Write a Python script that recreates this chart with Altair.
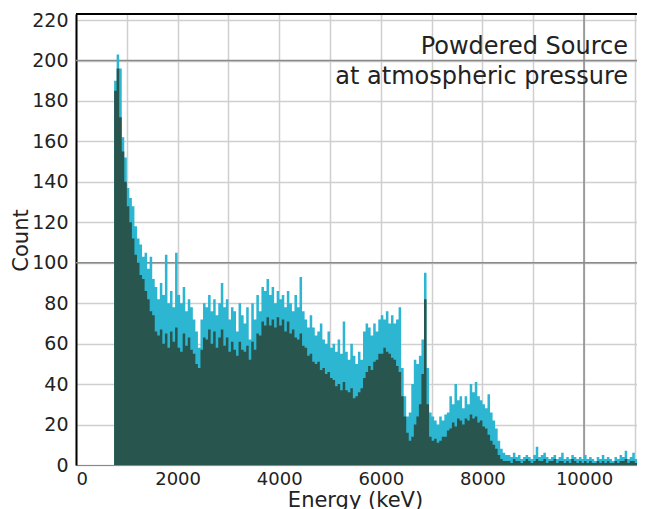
import altair as alt
import pandas as pd

# ---- data (50 keV bins starting at 750 keV) ----
BIN_START = 750
BIN_WIDTH = 50

CYAN = [
    190, 203, 196, 162, 152, 137, 132, 128, 118, 112,
    109, 103, 105, 97, 103, 92, 88, 82, 90, 84,
    104, 80, 86, 78, 105, 84, 80, 88, 76, 82,
    78, 72, 66, 58, 72, 80, 78, 84, 76, 82,
    74, 80, 90, 78, 82, 72, 78, 76, 66, 80,
    74, 70, 78, 62, 80, 72, 84, 76, 88, 86,
    92, 84, 88, 80, 86, 82, 84, 78, 86, 80,
    76, 84, 78, 93, 76, 72, 68, 74, 68, 64,
    66, 70, 62, 60, 66, 58, 60, 56, 62, 55,
    71, 56, 52, 60, 54, 50, 56, 52, 66, 70,
    68, 64, 70, 66, 72, 74, 72, 76, 70, 74,
    70, 72, 78, 48, 34, 24, 26, 40, 52, 50,
    54, 62, 95, 48, 26, 24, 22, 20, 24, 22,
    25, 26, 34, 30, 40, 32, 34, 28, 34, 30,
    40, 36, 41, 34, 32, 30, 28, 35, 26, 22,
    18, 12, 8, 6, 5,
    5, 4, 6, 4, 5, 3, 4, 5, 4, 3,
    5, 9, 4, 5, 6, 4, 3, 4, 5, 3,
    4, 6, 3, 4, 3, 5, 4, 3, 4, 3,
    5, 3, 4, 3, 2, 4, 3, 5, 3, 4,
    3, 2, 4, 3, 5, 4, 7, 3, 4, 6,
    3, 5, 4, 6,
]

GREEN = [
    185, 196, 172, 155, 140, 128, 120, 112, 104, 100,
    94, 92, 86, 82, 76, 74, 66, 64, 67, 60,
    65, 58, 66, 61, 68, 58, 56, 65, 59, 63,
    57, 55, 50, 48, 57, 63, 62, 67, 60, 66,
    58, 63, 67, 59, 63, 56, 61, 57, 54, 61,
    57, 56, 59, 52, 61, 57, 65, 64, 71, 69,
    73, 69, 72, 68, 73, 69, 72, 66, 71, 65,
    67, 63, 62, 65, 59, 58, 54, 55, 51, 50,
    51, 47, 48, 45, 46, 43, 42, 39, 40, 37,
    41, 37, 36, 38, 33, 34, 36, 38, 43, 46,
    49, 47, 51, 52, 55, 55, 58, 56, 55, 53,
    52, 49, 46, 34, 24, 16, 12, 14, 20, 24,
    30, 45, 82, 30, 14, 12, 13, 11, 12, 14,
    14, 17, 18, 21, 19, 23, 22, 20, 23, 22,
    25, 23, 24, 21, 22, 19, 18, 15, 12, 10,
    8, 5, 3, 2, 2,
    2, 1, 3, 2, 2, 1, 2, 3, 2, 1,
    2, 3, 2, 2, 3, 1, 2, 2, 3, 1,
    2, 2, 1, 2, 1, 3, 2, 1, 2, 1,
    2, 1, 2, 1, 1, 2, 1, 2, 1, 2,
    1, 1, 2, 1, 2, 2, 3, 1, 2, 2,
    1, 2, 2, 3,
]

X_TICKS = list(range(0, 11001, 1000))
Y_TICKS = list(range(0, 221, 20))
X_MAJOR = [10000]
Y_MAJOR = [100, 200]
ANNOT = ["Powdered Source", "at atmospheric pressure"]

W, H = 561, 451
X_MAX = 11043
Y_MAX = 223
FONT = "DejaVu Sans"

edges = [BIN_START + BIN_WIDTH * i for i in range(len(CYAN) + 1)]
df = pd.DataFrame({
    "energy": edges,
    "top": CYAN + [CYAN[-1]],
    "low": GREEN + [GREEN[-1]],
})

xscale = alt.Scale(domain=[0, X_MAX], nice=False, zero=False)
yscale = alt.Scale(domain=[0, Y_MAX], nice=False)

xaxis = alt.Axis(
    values=X_TICKS, grid=True, gridColor="#cfcfcf", gridWidth=1.5,
    labelExpr="datum.value % 2000 == 0 ? format(datum.value, 'd') : ''",
    ticks=False, domainColor="#7d8f8d", domainWidth=1,
    labelFont=FONT, labelFontSize=18, labelColor="#222", labelPadding=5,
    title="Energy (keV)", titleFont=FONT, titleFontSize=21, titleFontWeight="normal",
    titleColor="#222", titleX=279, titleY=41, titleBaseline="alphabetic",
    titleAlign="center",
)
yaxis = alt.Axis(
    values=Y_TICKS, grid=True, gridColor="#cfcfcf", gridWidth=1.5,
    format="d", ticks=False, domainColor="#000", domainWidth=2,
    labelFont=FONT, labelFontSize=19, labelColor="#222", labelPadding=8,
    title="Count", titleFont=FONT, titleFontSize=21, titleFontWeight="normal",
    titleColor="#222", titleX=-49, titleY=226, titleAngle=270,
    titleBaseline="alphabetic", titleAlign="center",
)

def X(field):
    return alt.X(field, scale=xscale, axis=xaxis)

def Y(field):
    return alt.Y(field, scale=yscale, axis=yaxis)

cyan = alt.Chart(df).mark_area(
    interpolate="step-after", color="#2cb6d2", clip=True
).encode(x=X("energy:Q"), y=Y("top:Q"))
green = alt.Chart(df).mark_area(
    interpolate="step-after", color="#28564f", clip=True
).encode(x=X("energy:Q"), y=Y("low:Q"))

vmaj = alt.Chart(pd.DataFrame({"v": X_MAJOR})).mark_rule(
    color="#8a8a8a", strokeWidth=1.5
).encode(x=X("v:Q"))
hmaj = alt.Chart(pd.DataFrame({"h": Y_MAJOR})).mark_rule(
    color="#8a8a8a", strokeWidth=1.5
).encode(y=Y("h:Q"))

border = alt.Chart(pd.DataFrame({"a": [0]})).mark_rule(
    color="#000", strokeWidth=2
).encode(x=alt.value(0), x2=alt.value(W), y=alt.value(0))

t1 = alt.Chart(pd.DataFrame({"t": [ANNOT[0]]})).mark_text(
    align="right", baseline="alphabetic", font=FONT, fontSize=24, color="#222"
).encode(text="t:N", x=alt.value(552), y=alt.value(40))
t2 = alt.Chart(pd.DataFrame({"t": [ANNOT[1]]})).mark_text(
    align="right", baseline="alphabetic", font=FONT, fontSize=24, color="#222"
).encode(text="t:N", x=alt.value(552), y=alt.value(70))

chart = alt.layer(vmaj, hmaj, cyan, green, border, t1, t2).properties(
    width=W, height=H,
    padding={"left": 68, "top": 6, "right": 0, "bottom": 44},
    autosize=alt.AutoSizeParams(type="none"),
).configure_view(stroke=None).configure(background="white")

chart.save("out.html", embed_options={"renderer": "svg", "actions": False})
